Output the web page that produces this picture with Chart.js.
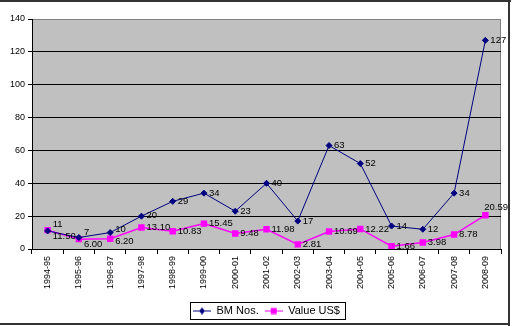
<!DOCTYPE html>
<html>
<head>
<meta charset="utf-8">
<script src="https://cdn.jsdelivr.net/npm/chart.js@4/dist/chart.umd.min.js"></script>
<style>
  html, body { margin: 0; padding: 0; background: #fff; }
  #wrap { width: 512px; height: 326px; position: relative; }
</style>
</head>
<body>
<div id="wrap"><canvas id="chart" width="512" height="326"></canvas></div>
<script>
const years = ["1994-95", "1995-96", "1996-97", "1997-98", "1998-99", "1999-00", "2000-01",
  "2001-02", "2002-03", "2003-04", "2004-05", "2005-06", "2006-07", "2007-08", "2008-09"];
const bmNos = [11, 7, 10, 20, 29, 34, 23, 40, 17, 63, 52, 14, 12, 34, 127];
const valueUsd = [11.50, 6.00, 6.20, 13.10, 10.83, 15.45, 9.48, 11.98, 2.81, 10.69, 12.22, 1.66, 3.98, 8.78, 20.59];
const yTicks = [0, 20, 40, 60, 80, 100, 120, 140];

const FONT = "'Liberation Sans', Arial, sans-serif";

// маленькая картинка для легенды: линия с маркером
function legendIcon(color, shape) {
  const c = document.createElement("canvas");
  c.width = 18; c.height = 8;
  const g = c.getContext("2d");
  g.strokeStyle = color;
  g.lineWidth = 1;
  g.beginPath(); g.moveTo(0, 4.5); g.lineTo(18, 4.5); g.stroke();
  g.fillStyle = color;
  if (shape === "diamond") {
    g.beginPath(); g.moveTo(9, 1); g.lineTo(12, 4.5); g.lineTo(9, 8); g.lineTo(6, 4.5); g.closePath(); g.fill();
  } else {
    g.fillRect(6, 1.5, 6, 6);
  }
  return c;
}

const plotBg = {
  id: "plotBg",
  afterLayout(chart) {
    // легенда в оригинале центрирована по области графика и чуть ниже
    const lg = chart.legend;
    lg.left += 16; lg.right += 16;
    lg.top += 4; lg.bottom += 4;
  },
  beforeDraw(chart) {
    const { ctx, chartArea: a } = chart;
    ctx.save();
    ctx.fillStyle = "#c0c0c0";
    ctx.fillRect(a.left, a.top, a.right - a.left, a.bottom - a.top);
    ctx.strokeStyle = "#808080";
    ctx.lineWidth = 1;
    ctx.strokeRect(a.left + 0.5, a.top + 0.5, a.right - a.left - 1, a.bottom - a.top);
    ctx.restore();
  },
  afterDraw(chart) {
    const ctx = chart.ctx;
    ctx.save();
    // рамка вокруг картинки
    ctx.fillStyle = "#333";
    ctx.fillRect(0, 0, 511, 2);
    ctx.fillRect(508, 0, 2, 326);
    ctx.fillRect(0, 323, 510, 2);
    // рамка легенды
    const boxes = chart.legend.legendHitBoxes;
    if (boxes && boxes.length) {
      const l = Math.min(...boxes.map(b => b.left)) - 3;
      const r = Math.max(...boxes.map(b => b.left + b.width)) + 5;
      const t = Math.min(...boxes.map(b => b.top)) - 3;
      const btm = Math.max(...boxes.map(b => b.top + b.height)) + 3;
      ctx.strokeStyle = "#000";
      ctx.lineWidth = 1;
      ctx.strokeRect(Math.round(l) + 0.5, Math.round(t) + 0.5, Math.round(r - l), Math.round(btm - t));
    }
    ctx.restore();
  }
};

const pointLabels = {
  id: "pointLabels",
  afterDatasetsDraw(chart) {
    const ctx = chart.ctx;
    ctx.save();
    ctx.font = "9.5px " + FONT;
    ctx.fillStyle = "#000";
    ctx.textBaseline = "middle";
    const m0 = chart.getDatasetMeta(0);
    const m1 = chart.getDatasetMeta(1);
    chart.data.datasets.forEach((ds, i) => {
      const meta = chart.getDatasetMeta(i);
      meta.data.forEach((pt, j) => {
        const txt = i === 0 ? String(ds.data[j]) : ds.data[j].toFixed(2);
        const w = ctx.measureText(txt).width;
        let x = pt.x + 5;
        let y = pt.y;
        // если подписи двух рядов слишком близко — раздвигаем
        const ya = m0.data[j].y, yb = m1.data[j].y;
        if (Math.abs(ya - yb) < 12) {
          const mid = (ya + yb) / 2;
          y = i === 0 ? mid - 6 : mid + 6;
        }
        if (x + w > chart.width - 4) {
          x = chart.width - 4 - w;
          y -= 8;
        }
        ctx.fillText(txt, x, y);
      });
    });
    ctx.restore();
  }
};

new Chart(document.getElementById("chart"), {
  type: "line",
  data: {
    labels: years,
    datasets: [
      {
        label: "BM Nos.",
        data: bmNos,
        borderColor: "#000080",
        backgroundColor: "#000080",
        borderWidth: 1,
        pointStyle: "rectRot",
        pointRadius: 3,
        pointHoverRadius: 3,
        tension: 0
      },
      {
        label: "Value US$",
        data: valueUsd,
        borderColor: "#ff00ff",
        backgroundColor: "#ff00ff",
        borderWidth: 1.5,
        pointStyle: "rect",
        pointRadius: 3.5,
        pointHoverRadius: 3.5,
        tension: 0
      }
    ]
  },
  options: {
    responsive: false,
    animation: false,
    events: [],
    layout: { padding: { top: 19, right: 11, left: 0, bottom: 4 } },
    plugins: {
      tooltip: { enabled: false },
      legend: {
        position: "bottom",
        labels: {
          usePointStyle: true,
          pointStyleWidth: 18,
          padding: 6,
          color: "#000",
          font: { family: FONT, size: 11 },
          generateLabels(chart) {
            return chart.data.datasets.map((ds, i) => ({
              text: ds.label,
              pointStyle: legendIcon(ds.borderColor, i === 0 ? "diamond" : "square"),
              fillStyle: ds.borderColor,
              strokeStyle: ds.borderColor,
              lineWidth: 0,
              datasetIndex: i,
              hidden: false
            }));
          }
        }
      }
    },
    scales: {
      x: {
        offset: true,
        afterFit(scale) { scale.height = 46; },
        grid: {
          offset: true,
          drawOnChartArea: false,
          drawTicks: true,
          tickLength: 5,
          color: "#000"
        },
        border: { color: "#000", width: 1 },
        ticks: {
          minRotation: 90,
          maxRotation: 90,
          autoSkip: false,
          padding: 2,
          color: "#000",
          font: { family: FONT, size: 9 }
        }
      },
      y: {
        min: 0,
        max: 140,
        afterFit(scale) { scale.width = 32; },
        afterBuildTicks(scale) { scale.ticks = yTicks.map(v => ({ value: v })); },
        grid: {
          drawTicks: true,
          tickLength: 4,
          color: (c) => (c.tick && (c.tick.value === 0 || c.tick.value === 140)) ? "rgba(0,0,0,0)" : "#000",
          tickColor: "#000"
        },
        border: { color: "#000", width: 1 },
        ticks: {
          padding: 3,
          color: "#000",
          font: { family: FONT, size: 9 }
        }
      }
    }
  },
  plugins: [plotBg, pointLabels]
});
</script>
</body>
</html>
